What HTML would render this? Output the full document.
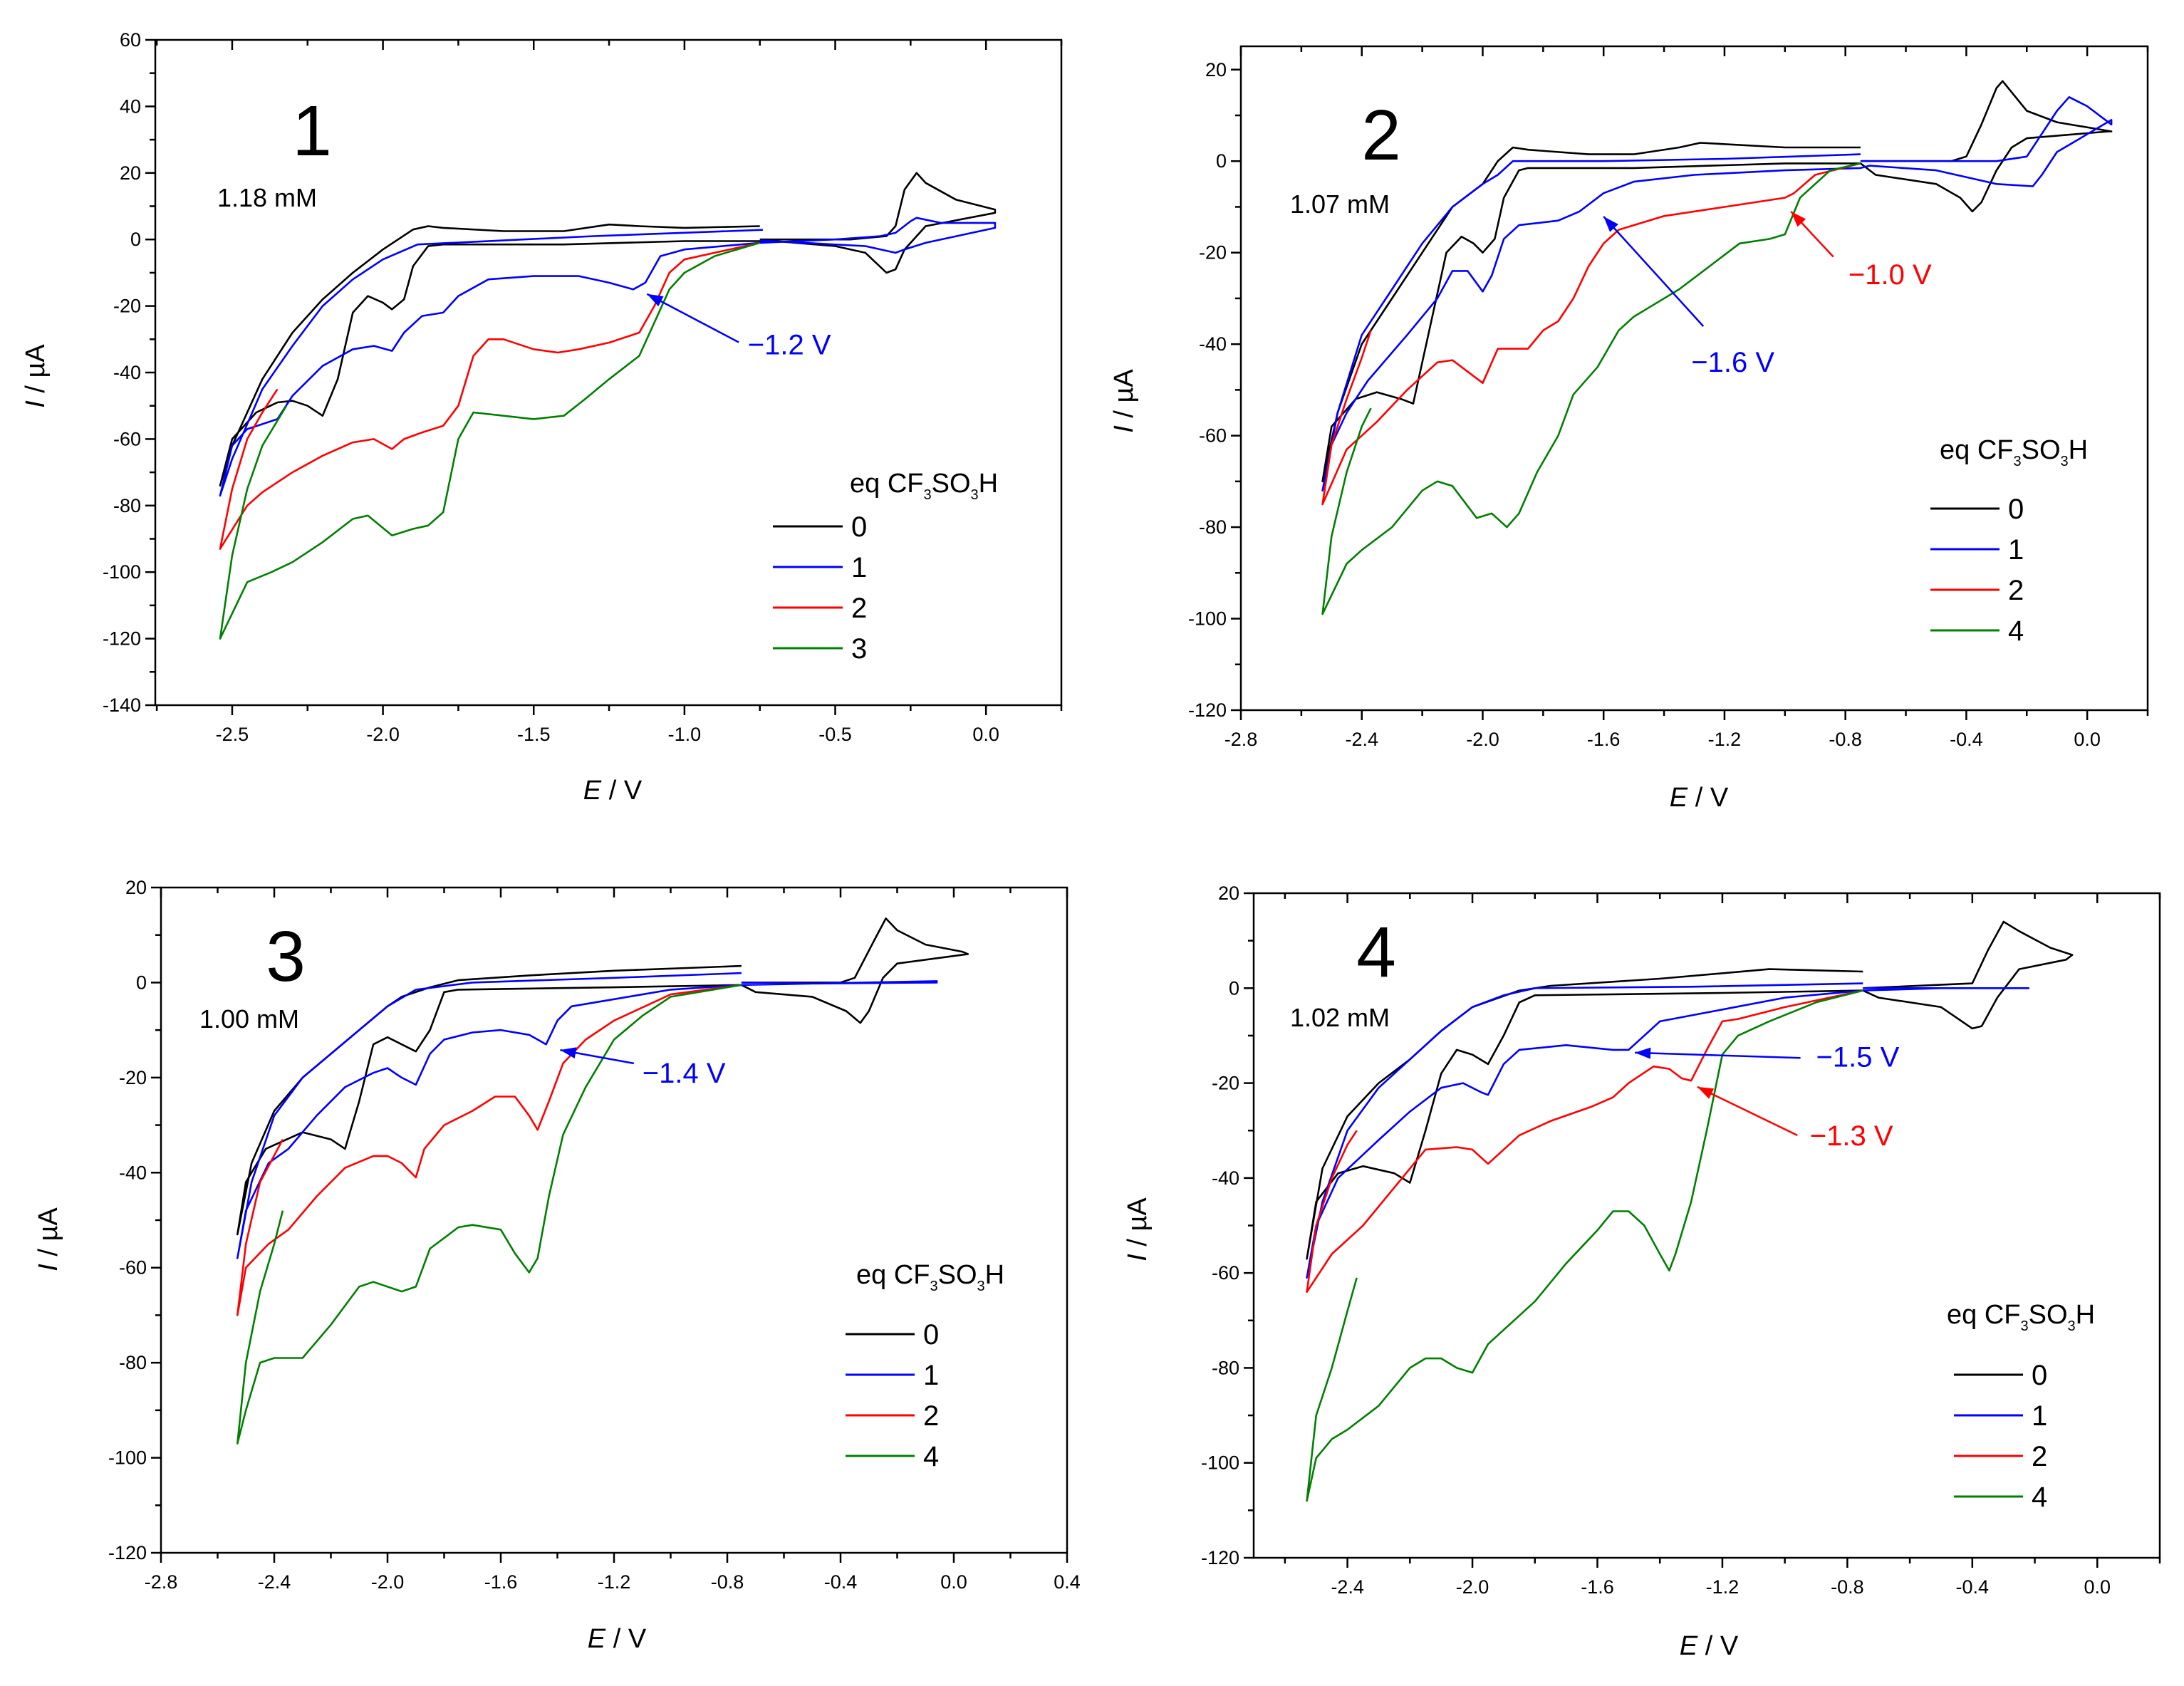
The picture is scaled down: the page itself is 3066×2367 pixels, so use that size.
<!DOCTYPE html>
<html><head><meta charset="utf-8"><style>
html,body{margin:0;padding:0;background:#fff}
svg{display:block}
text{font-family:"Liberation Sans",Arial,sans-serif}
</style></head><body>
<svg id="fig" width="3066" height="2367" viewBox="0 0 3066 2367" xmlns="http://www.w3.org/2000/svg"></svg>
<script>
// ---------- DATA ----------
const legendLabels1 = ["0","1","2","3"];
const legendLabels = ["0","1","2","4"];
const seriesColors = ["#000000","#0000ff","#ff0000","#008000"];

const p1_eq0 = [[-0.75,4],[-1.0,3.5],[-1.15,4],[-1.25,4.5],[-1.4,2.5],[-1.6,2.5],[-1.8,3.5],[-1.85,4],[-1.9,3],[-1.95,0],[-2.0,-3],[-2.1,-10],[-2.2,-18],[-2.3,-28],[-2.4,-42],[-2.5,-62],[-2.54,-74],[-2.5,-60],[-2.42,-52],[-2.35,-49],[-2.3,-48.5],[-2.25,-50],[-2.2,-53],[-2.15,-42],[-2.1,-22],[-2.05,-17],[-2.0,-19],[-1.97,-21],[-1.93,-18],[-1.9,-8],[-1.85,-2],[-1.8,-1.5],[-1.4,-1.5],[-1.0,-0.5],[-0.7,-0.5],[-0.5,-2],[-0.4,-4],[-0.33,-10],[-0.3,-9],[-0.27,-3],[-0.2,4],[0.03,8],[0.03,9],[-0.1,12],[-0.2,17],[-0.23,20],[-0.27,15],[-0.3,4],[-0.33,1],[-0.45,0],[-0.75,0]];
const p1_eq1 = [[-0.74,2.9],[-1.3,1],[-1.885,-1.5],[-2.0,-6],[-2.1,-12],[-2.2,-20],[-2.3,-32],[-2.4,-45],[-2.5,-66],[-2.54,-77],[-2.5,-62],[-2.45,-57],[-2.35,-54],[-2.3,-47],[-2.2,-38],[-2.1,-33],[-2.03,-32],[-1.97,-33.5],[-1.93,-28],[-1.87,-23],[-1.8,-22],[-1.75,-17],[-1.65,-12],[-1.5,-11],[-1.35,-11],[-1.25,-13],[-1.17,-15],[-1.13,-13],[-1.08,-5],[-1.0,-3],[-0.75,-1],[-0.5,0],[-0.35,1],[-0.3,2],[-0.25,5.5],[-0.23,6.5],[-0.15,5],[0.03,5],[0.03,3.5],[-0.2,-1],[-0.27,-3],[-0.3,-4],[-0.4,-2],[-0.75,-0.3]];
const p1_eq2 = [[-0.75,-1],[-0.9,-4],[-1.0,-6],[-1.05,-10],[-1.1,-20],[-1.15,-28],[-1.25,-31],[-1.35,-33],[-1.42,-34],[-1.5,-33],[-1.6,-30],[-1.65,-30],[-1.7,-35],[-1.75,-50],[-1.8,-56],[-1.87,-58],[-1.93,-60],[-1.97,-63],[-2.03,-60],[-2.1,-61],[-2.2,-65],[-2.3,-70],[-2.4,-76],[-2.45,-80],[-2.54,-93],[-2.5,-75],[-2.45,-60],[-2.4,-52],[-2.35,-45]];
const p1_eq3 = [[-0.75,-1],[-0.9,-5],[-1.0,-10],[-1.05,-15],[-1.1,-25],[-1.15,-35],[-1.25,-42],[-1.33,-48],[-1.4,-53],[-1.5,-54],[-1.6,-53],[-1.7,-52],[-1.75,-60],[-1.8,-82],[-1.85,-86],[-1.9,-87],[-1.97,-89],[-2.05,-83],[-2.1,-84],[-2.2,-91],[-2.3,-97],[-2.37,-100],[-2.45,-103],[-2.54,-120],[-2.5,-95],[-2.45,-75],[-2.4,-62],[-2.32,-50]];

const p2_eq0 = [[-0.75,3],[-1.0,3],[-1.28,4],[-1.35,3],[-1.5,1.5],[-1.65,1.5],[-1.85,2.5],[-1.9,3],[-1.95,0],[-2.0,-5],[-2.1,-10],[-2.2,-20],[-2.3,-30],[-2.4,-40],[-2.48,-55],[-2.53,-70],[-2.5,-58],[-2.42,-52],[-2.35,-50.5],[-2.27,-52],[-2.23,-53],[-2.17,-35],[-2.12,-20],[-2.07,-16.5],[-2.03,-18],[-2.0,-20],[-1.96,-17],[-1.93,-8],[-1.88,-2],[-1.85,-1.5],[-1.5,-1.5],[-1.0,-0.5],[-0.75,-0.5],[-0.7,-3],[-0.5,-5],[-0.42,-8],[-0.38,-11],[-0.35,-9],[-0.3,-2],[-0.25,3],[-0.2,5],[0.07,6.5],[0.08,6.5],[-0.1,8.5],[-0.2,11],[-0.28,17.5],[-0.3,16],[-0.35,8],[-0.4,1],[-0.45,0],[-0.75,0]];
const p2_eq1 = [[-0.75,1.5],[-1.2,0.5],[-1.6,0],[-1.9,0],[-1.95,-3],[-2.0,-5],[-2.1,-10],[-2.2,-18],[-2.3,-28],[-2.4,-38],[-2.48,-55],[-2.53,-72],[-2.5,-62],[-2.45,-55],[-2.38,-48],[-2.25,-38],[-2.15,-30],[-2.1,-24],[-2.05,-24],[-2.0,-28.5],[-1.97,-25],[-1.93,-17],[-1.88,-14],[-1.75,-13],[-1.68,-11],[-1.6,-7],[-1.5,-4.5],[-1.3,-3],[-1.0,-2],[-0.75,-1.5],[-0.72,-1],[-0.5,-2],[-0.3,-5],[-0.18,-5.5],[-0.15,-3],[-0.1,2],[0.08,9],[0.08,8],[0,12],[-0.06,14],[-0.1,11],[-0.2,1],[-0.3,0],[-0.75,0]];
const p2_eq2 = [[-0.75,-0.5],[-0.9,-3],[-0.97,-7],[-1.0,-8],[-1.2,-10],[-1.4,-12],[-1.55,-15],[-1.6,-18],[-1.65,-23],[-1.7,-30],[-1.75,-35],[-1.8,-37],[-1.85,-41],[-1.9,-41],[-1.95,-41],[-2.0,-48.5],[-2.05,-46],[-2.1,-43.5],[-2.15,-44],[-2.25,-50],[-2.35,-57],[-2.45,-63],[-2.53,-75],[-2.5,-62],[-2.45,-52],[-2.4,-43],[-2.37,-37]];
const p2_eq4 = [[-0.75,-0.5],[-0.85,-2],[-0.95,-8],[-1.0,-16],[-1.05,-17],[-1.15,-18],[-1.25,-23],[-1.35,-28],[-1.45,-32],[-1.5,-34],[-1.55,-37],[-1.62,-45],[-1.7,-51],[-1.75,-60],[-1.82,-68],[-1.88,-77],[-1.92,-80],[-1.97,-77],[-2.02,-78],[-2.1,-71],[-2.15,-70],[-2.2,-72],[-2.3,-80],[-2.4,-85],[-2.45,-88],[-2.53,-99],[-2.5,-82],[-2.45,-68],[-2.4,-58],[-2.37,-54]];

const p3_eq0 = [[-0.75,3.5],[-1.2,2.5],[-1.5,1.5],[-1.75,0.5],[-1.85,-1],[-1.95,-3],[-2.0,-5],[-2.1,-10],[-2.2,-15],[-2.3,-20],[-2.4,-27],[-2.48,-38],[-2.53,-53],[-2.5,-42],[-2.43,-35],[-2.3,-31.5],[-2.2,-33],[-2.15,-35],[-2.1,-25],[-2.05,-13],[-2.0,-11.5],[-1.95,-13],[-1.9,-14.5],[-1.85,-10],[-1.8,-2],[-1.75,-1.5],[-1.2,-1],[-0.75,-0.5],[-0.7,-2],[-0.5,-3],[-0.38,-6],[-0.33,-8.5],[-0.3,-6],[-0.25,1],[-0.2,4],[0.05,6],[0.03,6.5],[-0.1,8],[-0.2,11],[-0.24,13.5],[-0.28,9],[-0.35,1],[-0.4,0],[-0.75,0]];
const p3_eq1 = [[-0.75,2],[-1.2,1],[-1.7,0],[-1.9,-1.5],[-2.0,-5],[-2.1,-10],[-2.2,-15],[-2.3,-20],[-2.4,-28],[-2.48,-42],[-2.53,-58],[-2.5,-48],[-2.42,-38],[-2.35,-35],[-2.25,-28],[-2.15,-22],[-2.05,-19],[-2.0,-18],[-1.95,-20],[-1.9,-21.5],[-1.85,-15],[-1.8,-12],[-1.7,-10.5],[-1.6,-10],[-1.5,-11],[-1.44,-13],[-1.4,-8],[-1.35,-5],[-1.2,-3.5],[-1.0,-1.5],[-0.75,-0.5],[-0.5,-0.2],[-0.06,0.3],[-0.06,0],[-0.5,-0.2],[-0.75,0]];
const p3_eq2 = [[-0.75,-0.5],[-1.0,-2.5],[-1.2,-8],[-1.3,-12],[-1.38,-17],[-1.43,-25],[-1.47,-31],[-1.5,-28],[-1.55,-24],[-1.62,-24],[-1.7,-27],[-1.8,-30],[-1.87,-35],[-1.9,-41],[-1.95,-38],[-2.0,-36.5],[-2.05,-36.5],[-2.15,-39],[-2.25,-45],[-2.35,-52],[-2.42,-55],[-2.5,-60],[-2.53,-70],[-2.5,-55],[-2.45,-42],[-2.37,-33]];
const p3_eq4 = [[-0.75,-0.5],[-1.0,-3],[-1.1,-7],[-1.2,-12],[-1.3,-22],[-1.38,-32],[-1.43,-45],[-1.47,-58],[-1.5,-61],[-1.55,-57],[-1.6,-52],[-1.7,-51],[-1.75,-51.5],[-1.85,-56],[-1.9,-64],[-1.95,-65],[-2.05,-63],[-2.1,-64],[-2.2,-72],[-2.3,-79],[-2.4,-79],[-2.45,-80],[-2.5,-90],[-2.53,-97],[-2.5,-80],[-2.45,-65],[-2.4,-55],[-2.37,-48]];

const p4_eq0 = [[-0.75,3.5],[-1.05,4],[-1.4,2],[-1.75,0.5],[-1.85,-0.5],[-2.0,-4],[-2.1,-9],[-2.2,-15],[-2.3,-20],[-2.4,-27],[-2.48,-38],[-2.53,-57],[-2.5,-45],[-2.43,-39],[-2.35,-37.5],[-2.25,-39],[-2.2,-41],[-2.15,-30],[-2.1,-18],[-2.05,-13],[-2.0,-14],[-1.95,-16],[-1.9,-10],[-1.85,-3],[-1.8,-1.5],[-1.2,-1],[-0.75,-0.5],[-0.7,-2],[-0.5,-4],[-0.4,-8.5],[-0.37,-8],[-0.32,-2],[-0.25,4],[-0.1,6],[-0.08,7],[-0.15,8.5],[-0.25,12],[-0.3,14],[-0.35,8],[-0.4,1],[-0.75,0]];
const p4_eq1 = [[-0.75,1],[-1.3,0.3],[-1.8,0],[-1.9,-1.5],[-2.0,-4],[-2.1,-9],[-2.2,-15],[-2.3,-21],[-2.4,-30],[-2.48,-45],[-2.53,-61],[-2.5,-50],[-2.43,-40],[-2.3,-32],[-2.2,-26],[-2.1,-21],[-2.03,-20],[-1.97,-22],[-1.95,-22.5],[-1.9,-16],[-1.85,-13],[-1.7,-12],[-1.55,-13],[-1.5,-13],[-1.45,-10],[-1.4,-7],[-1.2,-4.5],[-1.0,-2],[-0.75,-0.5],[-0.5,0],[-0.22,0],[-0.75,0]];
const p4_eq2 = [[-0.75,-0.5],[-1.0,-4],[-1.15,-6.5],[-1.2,-7],[-1.25,-13],[-1.3,-19.5],[-1.33,-19],[-1.37,-17],[-1.42,-16.5],[-1.5,-20],[-1.55,-23],[-1.62,-25],[-1.75,-28],[-1.85,-31],[-1.9,-34],[-1.95,-37],[-2.0,-34],[-2.05,-33.5],[-2.15,-34],[-2.25,-42],[-2.35,-50],[-2.45,-56],[-2.53,-64],[-2.5,-50],[-2.45,-40],[-2.4,-33],[-2.37,-30]];
const p4_eq4 = [[-0.75,-0.5],[-0.9,-3],[-1.05,-7],[-1.15,-10],[-1.2,-14],[-1.25,-30],[-1.3,-45],[-1.35,-56],[-1.37,-59.5],[-1.4,-56],[-1.45,-50],[-1.5,-47],[-1.55,-47],[-1.6,-51],[-1.7,-58],[-1.8,-66],[-1.9,-72],[-1.95,-75],[-2.0,-81],[-2.05,-80],[-2.1,-78],[-2.15,-78],[-2.2,-80],[-2.3,-88],[-2.4,-93],[-2.45,-95],[-2.5,-99],[-2.53,-108],[-2.5,-90],[-2.45,-80],[-2.4,-68],[-2.37,-61]];

const xTicks1 = [-2.5,-2.0,-1.5,-1.0,-0.5,0.0];
const xTickLabels1 = ["-2.5","-2.0","-1.5","-1.0","-0.5","0.0"];
const yTicks1 = [60,40,20,0,-20,-40,-60,-80,-100,-120,-140];
const xTicks2 = [-2.8,-2.4,-2.0,-1.6,-1.2,-0.8,-0.4,0.0];
const xTickLabels2 = ["-2.8","-2.4","-2.0","-1.6","-1.2","-0.8","-0.4","0.0"];
const xTicks3 = [-2.8,-2.4,-2.0,-1.6,-1.2,-0.8,-0.4,0.0,0.4];
const xTickLabels3 = ["-2.8","-2.4","-2.0","-1.6","-1.2","-0.8","-0.4","0.0","0.4"];
const xTicks4 = [-2.4,-2.0,-1.6,-1.2,-0.8,-0.4,0.0];
const xTickLabels4 = ["-2.4","-2.0","-1.6","-1.2","-0.8","-0.4","0.0"];
const yTicks234 = [20,0,-20,-40,-60,-80,-100,-120];

const NS = "http://www.w3.org/2000/svg";
const svg = document.getElementById('fig');
function el(tag, attrs, parent, txt){
  const e = document.createElementNS(NS, tag);
  for (const k in attrs) e.setAttribute(k, attrs[k]);
  if (txt !== undefined) e.textContent = txt;
  (parent||svg).appendChild(e);
  return e;
}

function panel(cfg){
  const g = el('g', {});
  
  
  const X = v => cfg.L + (v - cfg.x0) / (cfg.x1 - cfg.x0) * (cfg.R - cfg.L);
  const Y = v => cfg.T + (cfg.y1 - v) / (cfg.y1 - cfg.y0) * (cfg.B - cfg.T);
  // frame
  const fr = el('rect', {x:cfg.L, y:cfg.T, width:cfg.R-cfg.L, height:cfg.B-cfg.T, fill:'none', stroke:'#000', 'stroke-width':2.5}, g);
  
  
  // x ticks
  const xa = el('g', {}, g);
  
  
  const step = cfg.xMinor;
  for (let v = Math.ceil((cfg.x0)/step - 1e-6)*step; v <= cfg.x1 + 1e-6; v += step){
    const px = X(v);
    const major = cfg.xTicks.some(t => Math.abs(t - v) < 1e-6);
    const len = major ? 14 : 8;
    el('line', {x1:px, x2:px, y1:cfg.B, y2:cfg.B+len, stroke:'#000','stroke-width':2.5}, xa);
    el('line', {x1:px, x2:px, y1:cfg.T, y2:cfg.T+len, stroke:'#000','stroke-width':2.5}, xa);
  }
  cfg.xTicks.forEach((v, i) => {
    const t = el('text', {x:X(v), y:cfg.B+50, 'font-size':27, 'text-anchor':'middle', fill:'#000'}, xa, cfg.xLabels[i]);
    
    
  });
  // y ticks
  const ya = el('g', {}, g);
  
  
  for (let v = cfg.y0; v <= cfg.y1 + 1e-6; v += 10){
    const major = cfg.yTicks.includes(v);
    el('line', {x1:cfg.L - (major?14:8), x2:cfg.L, y1:Y(v), y2:Y(v), stroke:'#000','stroke-width':2.5}, ya);
  }
  cfg.yTicks.forEach(v => {
    const t = el('text', {x:cfg.L-20, y:Y(v)+9, 'font-size':27, 'text-anchor':'end', fill:'#000'}, ya, String(v));
    
    
  });
  // axis titles
  const xt = el('text', {x:cfg.xtx, y:cfg.xty, 'font-size':38, 'text-anchor':'middle', fill:'#000'}, g);
  
  
  el('tspan', {'font-style':'italic'}, xt, 'E');
  el('tspan', {}, xt, ' / V');
  const yt = el('text', {x:cfg.ytx, y:cfg.yty, 'font-size':38, 'text-anchor':'middle', fill:'#000', transform:`rotate(-90 ${cfg.ytx} ${cfg.yty})`}, g);
  
  
  el('tspan', {'font-style':'italic'}, yt, 'I');
  el('tspan', {}, yt, ' / µA');
  // series
  cfg.series.forEach((s, i) => {
    const d = s.map((p, j) => (j ? 'L' : 'M') + X(p[0]).toFixed(1) + ' ' + Y(p[1]).toFixed(1)).join(' ');
    const path = el('path', {d, fill:'none', stroke:seriesColors[i], 'stroke-width':2.6, 'stroke-linejoin':'round'}, g);
    
    
  });
  // panel number and concentration
  const pn = el('text', {x:cfg.num[0], y:cfg.num[1]+36, 'font-size':100, 'text-anchor':'middle', fill:'#000'}, g, String(cfg.id));
  
  
  const cc = el('text', {x:cfg.conc[0], y:cfg.conc[1]+12, 'font-size':36, 'text-anchor':'middle', fill:'#000'}, g, cfg.concText);
  
  
  // annotations
  cfg.ann.forEach(a => {
    const ag = el('g', {}, g);
    
    
    const x1 = X(a.from[0]), y1 = Y(a.from[1]), x2 = X(a.to[0]), y2 = Y(a.to[1]);
    el('line', {x1, y1, x2, y2, stroke:a.color, 'stroke-width':2.5}, ag);
    const ang = Math.atan2(y2-y1, x2-x1), L = 22, W = 8;
    const bx = x2 - L*Math.cos(ang), by = y2 - L*Math.sin(ang);
    const px = -Math.sin(ang)*W, py = Math.cos(ang)*W;
    el('polygon', {points:`${x2},${y2} ${bx+px},${by+py} ${bx-px},${by-py}`, fill:a.color}, ag);
    el('text', {x:X(a.text[0]), y:Y(a.text[1])+14, 'font-size':40, fill:a.color}, ag, a.label);
  });
  // legend
  const lg = el('g', {}, g);
  
  
  const ttl = el('text', {x:cfg.leg.tx, y:cfg.leg.ty+13, 'font-size':38, fill:'#000'}, lg);
  el('tspan', {}, ttl, 'eq CF');
  el('tspan', {'font-size':20, dy:10}, ttl, '3');
  el('tspan', {dy:-10}, ttl, 'SO');
  el('tspan', {'font-size':20, dy:10}, ttl, '3');
  el('tspan', {dy:-10}, ttl, 'H');
  cfg.labels.forEach((lab, i) => {
    const yy = cfg.leg.ys[0] + i*cfg.leg.dy;
    const le = el('g', {}, lg);
    
    
    el('line', {x1:cfg.leg.lx0, x2:cfg.leg.lx1, y1:yy, y2:yy, stroke:seriesColors[i], 'stroke-width':3}, le);
    el('text', {x:cfg.leg.lx1+12, y:yy+14, 'font-size':40, fill:'#000'}, le, lab);
  });
}

panel({id:1, L:218, R:1490, T:56, B:990, x0:-2.755, x1:0.25, y0:-140, y1:60, xMinor:0.25,
  xTicks:xTicks1, xLabels:xTickLabels1, yTicks:yTicks1,
  xtx:860, xty:1122, ytx:62, yty:528,
  series:[p1_eq0,p1_eq1,p1_eq2,p1_eq3], labels:legendLabels1,
  num:[438,182], conc:[375,278], concText:'1.18 mM',
  ann:[{from:[-0.82,-30.9], to:[-1.124,-16.4], text:[-0.79,-31.5], label:'\u22121.2 V', color:'#0000ff'}],
  leg:{tx:1193, ty:678, ys:[739], dy:57, lx0:1085, lx1:1183}});

panel({id:2, L:1742, R:3015, T:65, B:997, x0:-2.8, x1:0.2, y0:-120, y1:25.1, xMinor:0.2,
  xTicks:xTicks2, xLabels:xTickLabels2, yTicks:yTicks234,
  xtx:2385, xty:1132, ytx:1590, yty:563,
  series:[p2_eq0,p2_eq1,p2_eq2,p2_eq4], labels:legendLabels,
  num:[1939,188], conc:[1881,287], concText:'1.07 mM',
  ann:[{from:[-0.84,-20.9], to:[-0.98,-11], text:[-0.79,-24.7], label:'\u22121.0 V', color:'#ff0000'},
       {from:[-1.27,-36.1], to:[-1.60,-12.1], text:[-1.31,-43.9], label:'\u22121.6 V', color:'#0000ff'}],
  leg:{tx:2723, ty:631, ys:[714], dy:57, lx0:2710, lx1:2807}});

panel({id:3, L:226, R:1498, T:1246, B:2180, x0:-2.8, x1:0.4, y0:-120, y1:20, xMinor:0.2,
  xTicks:xTicks3, xLabels:xTickLabels3, yTicks:yTicks234,
  xtx:866, xty:2313, ytx:80, yty:1740,
  series:[p3_eq0,p3_eq1,p3_eq2,p3_eq4], labels:legendLabels,
  num:[401,1341], conc:[350,1431], concText:'1.00 mM',
  ann:[{from:[-1.13,-17], to:[-1.39,-14.2], text:[-1.1,-19], label:'\u22121.4 V', color:'#0000ff'}],
  leg:{tx:1202, ty:1789, ys:[1873], dy:57, lx0:1187, lx1:1284}});

panel({id:4, L:1760, R:3032, T:1254, B:2187, x0:-2.7, x1:0.2, y0:-120, y1:20, xMinor:0.2,
  xTicks:xTicks4, xLabels:xTickLabels4, yTicks:yTicks234,
  xtx:2399, xty:2323, ytx:1609, yty:1726,
  series:[p4_eq0,p4_eq1,p4_eq2,p4_eq4], labels:legendLabels,
  num:[1932,1335], conc:[1881,1429], concText:'1.02 mM',
  ann:[{from:[-0.95,-14.7], to:[-1.48,-13.6], text:[-0.9,-14.4], label:'\u22121.5 V', color:'#0000ff'},
       {from:[-0.96,-31], to:[-1.28,-20.8], text:[-0.92,-31], label:'\u22121.3 V', color:'#ff0000'}],
  leg:{tx:2733, ty:1845, ys:[1930], dy:57, lx0:2743, lx1:2840}});
</script>
</body></html>
